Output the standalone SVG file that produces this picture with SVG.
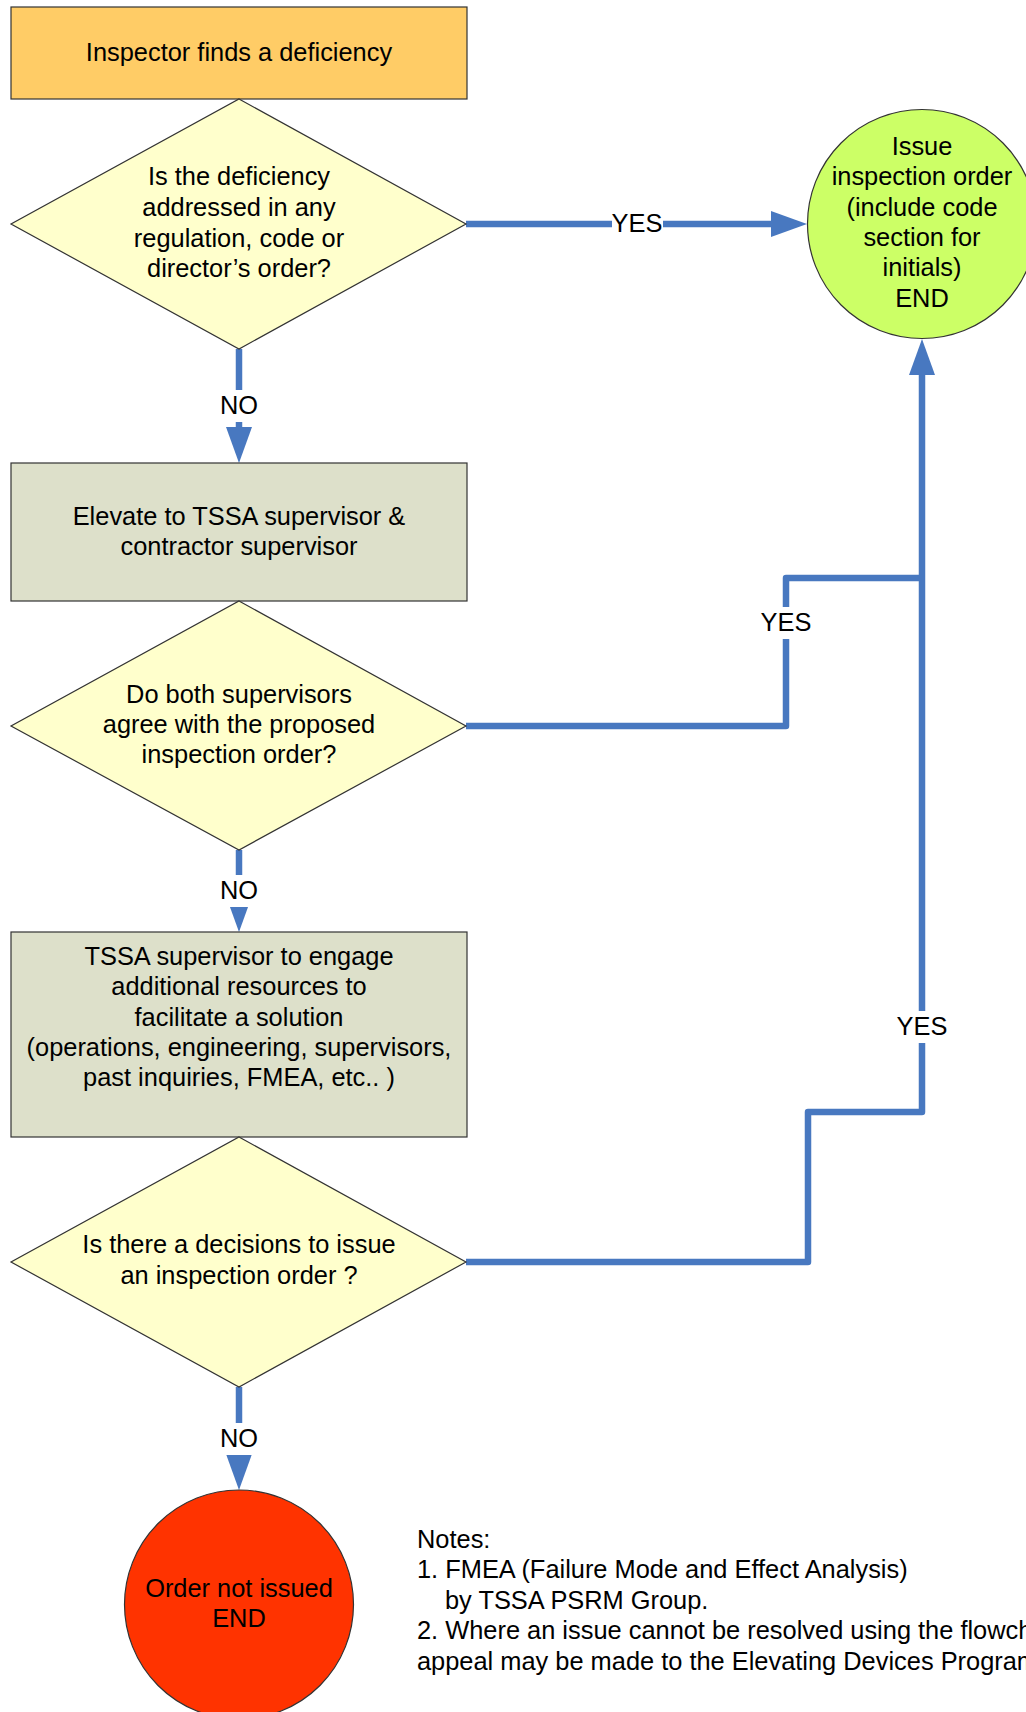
<svg xmlns="http://www.w3.org/2000/svg" width="1026" height="1712" viewBox="0 0 1026 1712">
<defs>
<style>
text{font-family:"Liberation Sans",Arial,sans-serif;font-size:25.4px;fill:#000;text-anchor:middle}
.n{stroke:#333;stroke-width:1.2}
.c{fill:none;stroke:#4878C0;stroke-width:6.5;stroke-linejoin:round}
.lb{fill:#fff}
.notes text{text-anchor:start}
</style>
<marker id="ah" markerUnits="userSpaceOnUse" markerWidth="36" markerHeight="26" refX="0" refY="13" orient="auto" viewBox="0 0 36 26"><path d="M0,0L36,13L0,26z" fill="#4878C0"/></marker>
</defs>
<rect width="1026" height="1712" fill="#fff"/>
<g id="connectors">
<path class="c" d="M466,224H771" marker-end="url(#ah)"/>
<path class="c" d="M239,349V427" marker-end="url(#ah)"/>
<path class="c" d="M239,850V896" marker-end="url(#ah)"/>
<path class="c" d="M239,1387V1454" marker-end="url(#ah)"/>
<path class="c" d="M466,726H786V578H922"/>
<path class="c" d="M466,1262H808V1112H922V375" marker-end="url(#ah)"/>
<rect class="lb" x="612" y="208" width="51" height="32"/><text x="637" y="232">YES</text>
<rect class="lb" x="219" y="390" width="40" height="32"/><text x="239" y="414">NO</text>
<rect class="lb" x="219" y="875" width="40" height="32"/><text x="239" y="899">NO</text>
<rect class="lb" x="219" y="1423" width="40" height="32"/><text x="239" y="1447">NO</text>
<rect class="lb" x="760" y="607" width="52" height="32"/><text x="786" y="631">YES</text>
<rect class="lb" x="896" y="1011" width="52" height="32"/><text x="922" y="1035">YES</text>
</g>
<g id="start">
<rect class="n" x="11" y="7" width="456" height="92" fill="#FFCC66"/>
<text x="239" y="61">Inspector finds a deficiency</text>
</g>
<g id="q1">
<polygon class="n" points="239,99 466,224 239,349 11,224" fill="#FFFFCC"/>
<text x="239" y="185">Is the deficiency</text>
<text x="239" y="216">addressed in any</text>
<text x="239" y="247">regulation, code or</text>
<text x="239" y="277">director’s order?</text>
</g>
<g id="issue">
<circle class="n" cx="922" cy="224" r="114.5" fill="#CCFF66"/>
<text x="922" y="155">Issue</text>
<text x="922" y="185">inspection order</text>
<text x="922" y="216">(include code</text>
<text x="922" y="246">section for</text>
<text x="922" y="276">initials)</text>
<text x="922" y="307">END</text>
</g>
<g id="elevate">
<rect class="n" x="11" y="463" width="456" height="138" fill="#DDE0CA"/>
<text x="239" y="525">Elevate to TSSA supervisor &amp;</text>
<text x="239" y="555">contractor supervisor</text>
</g>
<g id="q2">
<polygon class="n" points="239,601 466,726 239,850 11,726" fill="#FFFFCC"/>
<text x="239" y="703">Do both supervisors</text>
<text x="239" y="733">agree with the proposed</text>
<text x="239" y="763">inspection order?</text>
</g>
<g id="engage">
<rect class="n" x="11" y="932" width="456" height="205" fill="#DDE0CA"/>
<text x="239" y="965">TSSA supervisor to engage</text>
<text x="239" y="995">additional resources to</text>
<text x="239" y="1026">facilitate a solution</text>
<text x="239" y="1056">(operations, engineering, supervisors,</text>
<text x="239" y="1086">past inquiries, FMEA, etc.. )</text>
</g>
<g id="q3">
<polygon class="n" points="239,1137 466,1262 239,1387 11,1262" fill="#FFFFCC"/>
<text x="239" y="1253">Is there a decisions to issue</text>
<text x="239" y="1284">an inspection order ?</text>
</g>
<g id="notissued">
<circle class="n" cx="239" cy="1604.5" r="114.5" fill="#FF3300"/>
<text x="239" y="1597">Order not issued</text>
<text x="239" y="1627">END</text>
</g>
<g id="notes" class="notes">
<text x="417" y="1548">Notes:</text>
<text x="417" y="1578">1. FMEA (Failure Mode and Effect Analysis)</text>
<text x="445" y="1609">by TSSA PSRM Group.</text>
<text x="417" y="1639">2. Where an issue cannot be resolved using the flowchart</text>
<text x="417" y="1670">appeal may be made to the Elevating Devices Program</text>
</g>
</svg>
